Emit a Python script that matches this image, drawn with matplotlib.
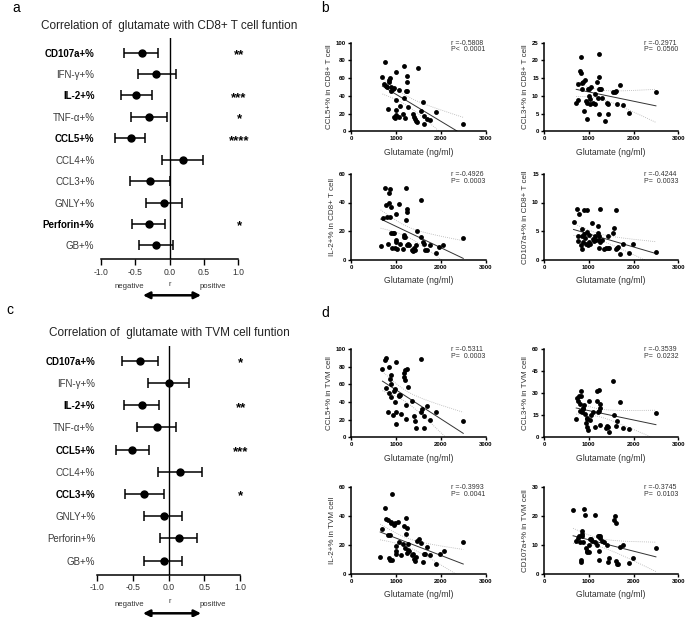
import numpy as np
import matplotlib
matplotlib.use('Agg')
import matplotlib.pyplot as plt

plt.rcParams['font.family'] = ['Liberation Sans', 'DejaVu Sans']

W, H = 685, 617

# ---------------- forest plot data ----------------
markers = ["CD107a+%", "IFN-γ+%", "IL-2+%", "TNF-α+%", "CCL5+%", "CCL4+%",
           "CCL3+%", "GNLY+%", "Perforin+%", "GB+%"]

cd8_r = [-0.40, -0.19, -0.48, -0.30, -0.56, 0.19, -0.28, -0.075, -0.30, -0.20]
cd8_lo = [-0.66, -0.46, -0.71, -0.56, -0.79, -0.11, -0.57, -0.34, -0.54, -0.45]
cd8_hi = [-0.16, 0.09, -0.25, -0.03, -0.35, 0.49, 0.01, 0.18, -0.06, 0.05]
cd8_stars = ["**", "", "***", "*", "****", "", "", "", "*", ""]
cd8_bold = [True, False, True, False, True, False, False, False, True, False]

tvm_r = [-0.40, 0.00, -0.38, -0.17, -0.51, 0.16, -0.34, -0.07, 0.14, -0.07]
tvm_lo = [-0.65, -0.285, -0.62, -0.45, -0.74, -0.15, -0.61, -0.34, -0.12, -0.34]
tvm_hi = [-0.15, 0.29, -0.135, 0.11, -0.27, 0.47, -0.06, 0.19, 0.40, 0.19]
tvm_stars = ["*", "", "**", "", "***", "", "*", "", "", ""]
tvm_bold = [True, False, True, False, True, False, True, False, False, False]

r_ticks = [-1.0, -0.5, 0.0, 0.5, 1.0]
r_ticklabels = ["-1.0", "-0.5", "0.0", "0.5", "1.0"]

# ---------------- scatter data ----------------
cd8_ccl5_x = [760, 700, 740, 780, 800, 840, 850, 860, 880, 900, 930, 960, 1000, 1000, 1080, 1180, 1170,
              1250, 1240, 1230, 1250, 1500, 820, 950, 980, 1000, 1000, 1080, 1100, 1150, 1200, 1280,
              1380, 1400, 1430, 1450, 1470, 1550, 1600, 1620, 1620, 1700, 1750, 1900, 2500]
cd8_ccl5_y = [78, 61, 53, 51, 50, 58, 56, 60, 45, 50, 48, 49, 67, 35, 47, 74, 38, 62, 56, 46, 45, 71,
              25, 16, 15, 18, 24, 16, 29, 19, 15, 27, 19, 16, 14, 12, 11, 23, 33, 17, 8, 14, 13, 22, 8]

cd8_ccl3_x = [720, 760, 770, 800, 820, 830, 850, 850, 880, 900, 920, 940, 960, 970, 980, 1000, 1000,
              1020, 1030, 1050, 1100, 1150, 1150, 1180, 1200, 1220, 1230, 1220, 1230, 1250, 1280, 1300,
              1360, 1400, 1430, 1440, 1550, 1580, 1600, 1620, 1700, 1760, 1900, 2500]
cd8_ccl3_y = [8, 8.8, 13.3, 17, 21, 16.5, 13.5, 12, 14, 5.8, 14.5, 8.5, 8, 3.6, 12, 11.8, 10, 9, 7.8,
              12.5, 8, 10.5, 7.8, 14, 9.3, 12, 15.3, 21.7, 5, 12, 12, 9.5, 3, 8, 5, 7.8, 11.2, 11, 11.5,
              7.6, 13, 7.3, 5.3, 11.2]

cd8_il2_x = [660, 720, 760, 770, 800, 820, 840, 850, 860, 870, 880, 900, 920, 940, 960, 980, 1000, 1000,
             1010, 1020, 1080, 1100, 1150, 1170, 1180, 1210, 1230, 1230, 1240, 1240, 1250, 1280, 1300,
             1350, 1380, 1400, 1430, 1450, 1480, 1550, 1560, 1600, 1620, 1650, 1700, 1750, 1900, 1950,
             2050, 2500]
cd8_il2_y = [9.7, 29, 50, 38, 29.5, 11, 40, 47, 49.5, 29.5, 18.5, 37, 8, 18.5, 18.8, 8, 14, 12, 32, 7.5,
             39, 11, 7.5, 17, 16, 16, 50, 28, 35.5, 33, 10, 11, 10, 7, 6, 8, 7, 10, 20, 41.5, 15.5, 12,
             11, 7, 7, 10, 4.5, 9, 10, 15]

cd8_cd107a_x = [660, 730, 760, 760, 790, 820, 840, 850, 860, 880, 900, 900, 920, 940, 960, 970, 980,
                1000, 1000, 1020, 1070, 1100, 1120, 1150, 1160, 1200, 1210, 1220, 1220, 1230, 1260, 1250,
                1300, 1350, 1380, 1420, 1430, 1450, 1550, 1570, 1600, 1600, 1620, 1660, 1700, 1760, 1900,
                1980, 2500]
cd8_cd107a_y = [6.5, 8.9, 4.2, 3.2, 8, 2.5, 1.8, 4.2, 5.4, 3, 8.6, 4.5, 3.8, 2.7, 4.8, 8.6, 2.6, 4.3, 3,
                2.8, 6.4, 3.6, 3.2, 4.2, 3.4, 5.8, 4.7, 4.2, 3.5, 2, 8.9, 3.1, 3.5, 1.8, 2, 4.2, 2.1, 2,
                4.7, 5.5, 8.6, 1.8, 2, 2.2, 1, 2.8, 1.2, 2.8, 1.3]

tvm_ccl5_x = [700, 760, 770, 790, 820, 840, 850, 860, 880, 890, 900, 940, 950, 970, 990, 1000, 1010,
              1000, 1060, 1080, 1100, 1120, 1170, 1180, 1200, 1210, 1220, 1230, 1240, 1260, 1350, 1400,
              1420, 1450, 1550, 1560, 1590, 1620, 1620, 1700, 1760, 1900, 2500]
tvm_ccl5_y = [78, 88, 90, 56.5, 28.5, 80, 50, 66, 46, 71, 61, 25, 53, 55, 40, 85, 15, 29, 48, 47, 48, 26,
              68, 73, 76, 65, 21, 37, 78, 57, 41, 24, 19, 11, 89, 29, 32, 24, 10, 35, 20, 29, 18]

tvm_ccl3_x = [720, 740, 760, 780, 800, 810, 820, 830, 850, 870, 880, 900, 920, 940, 950, 960, 970, 980,
              1000, 1020, 1060, 1100, 1150, 1180, 1180, 1200, 1220, 1230, 1240, 1260, 1250, 1380, 1400,
              1420, 1450, 1540, 1560, 1600, 1620, 1700, 1760, 1900, 2500]
tvm_ccl3_y = [12.5, 27, 25, 28, 23, 18, 31.5, 28, 17, 20, 19.5, 22, 16, 10, 13, 7, 12.5, 5, 24.5, 12,
              15.5, 17, 7, 24.5, 31.5, 17.5, 32, 18, 8.5, 23, 20, 6, 8, 7, 3.5, 38.5, 15, 7.5, 11, 24,
              6.5, 5.5, 16.5]

tvm_il2_x = [650, 700, 760, 770, 820, 830, 840, 860, 870, 880, 900, 910, 920, 950, 980, 1000, 1000, 1010,
             1050, 1080, 1120, 1150, 1180, 1200, 1220, 1230, 1250, 1240, 1260, 1280, 1300, 1350, 1380,
             1400, 1420, 1450, 1480, 1520, 1550, 1600, 1620, 1650, 1700, 1760, 1900, 1980, 2080, 2500]
tvm_il2_y = [12, 31, 45.5, 38, 27, 37.5, 11, 9.5, 27, 35, 36, 55.5, 10, 34, 35, 19.5, 16, 14, 36, 22, 13,
             21, 33, 18, 39, 28, 32, 14.5, 20.5, 16.5, 16, 13, 13.5, 10.5, 9, 12, 23, 24, 21.5, 8, 13.5,
             14, 19, 13, 7, 14, 16, 22]

tvm_cd107a_x = [650, 720, 760, 780, 800, 820, 830, 840, 850, 860, 880, 900, 920, 940, 950, 970, 1000,
                1000, 1020, 1050, 1080, 1130, 1150, 1180, 1200, 1220, 1230, 1230, 1250, 1260, 1300, 1350,
                1400, 1420, 1450, 1560, 1580, 1600, 1600, 1620, 1660, 1700, 1760, 1900, 1980, 2500]
tvm_cd107a_y = [22, 11.5, 12.5, 13, 11, 4, 5, 15, 14, 13, 11, 22.5, 20.5, 9, 7.5, 8, 7.5, 10, 12, 12,
                11.5, 20.5, 11, 10, 13, 13, 5, 8, 12.5, 13, 11.5, 11, 10, 4, 5.5, 18.8, 20, 4.5, 17.5,
                3.5, 3.5, 9.5, 10, 3.8, 5.5, 9]

glu_ticks = [0, 1000, 2000, 3000]

fig = plt.figure(figsize=(W / 100, H / 100), dpi=100)


def rect(left, top, right, bottom):
    return [left / W, 1 - bottom / H, (right - left) / W, (bottom - top) / H]


def fpt(x, y):
    return (x / W, 1 - y / H)


def forest(rc, r, lo, hi, stars, bold, ypad, title, title_y, lab_y, arrow_y):
    ax = fig.add_axes(rc)
    r = np.asarray(r); lo = np.asarray(lo); hi = np.asarray(hi)
    yy = np.arange(len(markers))
    ax.axvline(0, color='black', lw=1.0, zorder=1)
    ax.errorbar(r, yy, xerr=[r - lo, hi - r], fmt='o', color='black', ms=5.0,
                capsize=3.4, elinewidth=1.1, capthick=1.1, zorder=3, clip_on=False)
    ax.set_xlim(-1, 1)
    ax.set_ylim(9.65, -0.67)
    for s in ['top', 'right', 'left']:
        ax.spines[s].set_visible(False)
    ax.spines['bottom'].set_linewidth(1.1)
    ax.set_xticks(r_ticks)
    ax.set_xticklabels(r_ticklabels)
    ax.tick_params(axis='x', length=4, width=1.0, labelsize=6.2, pad=2, labelcolor='#333333')
    ax.set_yticks(yy)
    ax.set_yticklabels(markers)
    ax.tick_params(axis='y', length=0, pad=ypad, labelsize=7)
    for lbl, b in zip(ax.get_yticklabels(), bold):
        if b:
            lbl.set_fontweight('bold')
            lbl.set_color('black')
        else:
            lbl.set_color('#3a3a3a')
    for i, s in enumerate(stars):
        if s:
            ax.text(1.01, i + 0.12, s, ha='center', va='center', fontsize=9.5,
                    fontweight='bold', clip_on=False)
    fig.text(*fpt(169, title_y), title, ha='center', va='center', fontsize=8.5, color='#222222')
    fig.text(*fpt(129, lab_y), "negative", ha='center', va='center', fontsize=5.6, color='#333333')
    fig.text(*fpt(169.5, lab_y - 3), "r", ha='center', va='center', fontsize=5.3, color='#333333')
    fig.text(*fpt(213, lab_y), "positive", ha='center', va='center', fontsize=5.6, color='#333333')
    fig.add_artist(matplotlib.patches.FancyArrowPatch(
        fpt(143, arrow_y), fpt(201, arrow_y), transform=fig.transFigure,
        arrowstyle='<|-|>', mutation_scale=10, lw=1.8, color='black',
        shrinkA=0, shrinkB=0))
    return ax


def scatter(rc, x, y, ymax, yticks, ylabel, rtxt, ptxt):
    ax = fig.add_axes(rc)
    x = np.asarray(x, float); y = np.asarray(y, float)
    n = len(x)
    b, a = np.polyfit(x, y, 1)
    xs = np.linspace(x.min(), x.max(), 200)
    yh = a + b * xs
    resid = y - (a + b * x)
    s = np.sqrt(np.sum(resid ** 2) / (n - 2))
    se = s * np.sqrt(1.0 / n + (xs - x.mean()) ** 2 / np.sum((x - x.mean()) ** 2))
    t = 2.02
    ax.plot(xs, yh + t * se, linestyle=(0, (1, 1.5)), color='#b0b0b0', lw=0.6, zorder=1)
    ax.plot(xs, yh - t * se, linestyle=(0, (1, 1.5)), color='#b0b0b0', lw=0.6, zorder=1)
    ax.plot(xs, yh, color='#333333', lw=0.7, zorder=2)
    ax.plot(x, y, 'o', color='black', ms=3.5, mew=0, zorder=3, clip_on=False)
    ax.set_xlim(0, 3000)
    ax.set_ylim(0, ymax)
    ax.set_xticks(glu_ticks)
    ax.set_yticks(yticks)
    for sp in ['top', 'right']:
        ax.spines[sp].set_visible(False)
    for sp in ['left', 'bottom']:
        ax.spines[sp].set_linewidth(1.1)
    ax.tick_params(length=2.2, width=1.0, labelsize=4.3, pad=1.5)
    for lbl in ax.get_xticklabels() + ax.get_yticklabels():
        lbl.set_fontweight('bold')
    ax.set_xlabel("Glutamate (ng/ml)", fontsize=6.2, labelpad=4.5, color='#333333')
    ax.set_ylabel(ylabel, fontsize=5.8, labelpad=2, color='#333333')
    ax.text(0.745, 1.035, rtxt + "\n" + ptxt, transform=ax.transAxes, ha='left', va='top',
            fontsize=5.0, linespacing=0.9, color='#333333')
    return ax


forest(rect(100.7, 38.3, 238.3, 259.3), cd8_r, cd8_lo, cd8_hi, cd8_stars, cd8_bold, 4.5,
       "Correlation of  glutamate with CD8+ T cell funtion", 26, 287, 295.3)
forest(rect(97.3, 346, 240, 575), tvm_r, tvm_lo, tvm_hi, tvm_stars, tvm_bold, 1.5,
       "Correlation of  glutamate with TVM cell funtion", 333.3, 604.3, 613.3)

scatter(rect(351, 42.7, 485.7, 131.3), cd8_ccl5_x, cd8_ccl5_y, 100, [0, 20, 40, 60, 80, 100],
        "CCL5+% in CD8+ T cell", "r =-0.5808", "P<  0.0001")
scatter(rect(544, 42.7, 678.3, 131.3), cd8_ccl3_x, cd8_ccl3_y, 25, [0, 5, 10, 15, 20, 25],
        "CCL3+% in CD8+ T cell", "r =-0.2971", "P=  0.0560")
scatter(rect(351, 174, 485.7, 259.5), cd8_il2_x, cd8_il2_y, 60, [0, 20, 40, 60],
        "IL-2+% in CD8+ T cell", "r =-0.4926", "P=  0.0003")
scatter(rect(544, 174, 678.3, 259.5), cd8_cd107a_x, cd8_cd107a_y, 15, [0, 5, 10, 15],
        "CD107a+% in CD8+ T cell", "r =-0.4244", "P=  0.0033")
scatter(rect(351, 349.3, 485.7, 437.3), tvm_ccl5_x, tvm_ccl5_y, 100, [0, 20, 40, 60, 80, 100],
        "CCL5+% in TVM cell", "r =-0.5311", "P=  0.0003")
scatter(rect(544, 349.3, 678.3, 437.3), tvm_ccl3_x, tvm_ccl3_y, 60, [0, 15, 30, 45, 60],
        "CCL3+% in TVM cell", "r =-0.3539", "P=  0.0232")
scatter(rect(351, 487.3, 485.7, 574), tvm_il2_x, tvm_il2_y, 60, [0, 20, 40, 60],
        "IL-2+% in TVM cell", "r =-0.3993", "P=  0.0041")
scatter(rect(544, 487.3, 678.3, 574), tvm_cd107a_x, tvm_cd107a_y, 30, [0, 10, 20, 30],
        "CD107a+% in TVM cell", "r =-0.3745", "P=  0.0103")

# panel letters
fig.text(*fpt(16, 8), "a", ha='center', va='center', fontsize=10)
fig.text(*fpt(325, 8), "b", ha='center', va='center', fontsize=10)
fig.text(*fpt(10, 310), "c", ha='center', va='center', fontsize=10)
fig.text(*fpt(325, 313), "d", ha='center', va='center', fontsize=10)

fig.savefig("out.png", dpi=100, facecolor='white')
